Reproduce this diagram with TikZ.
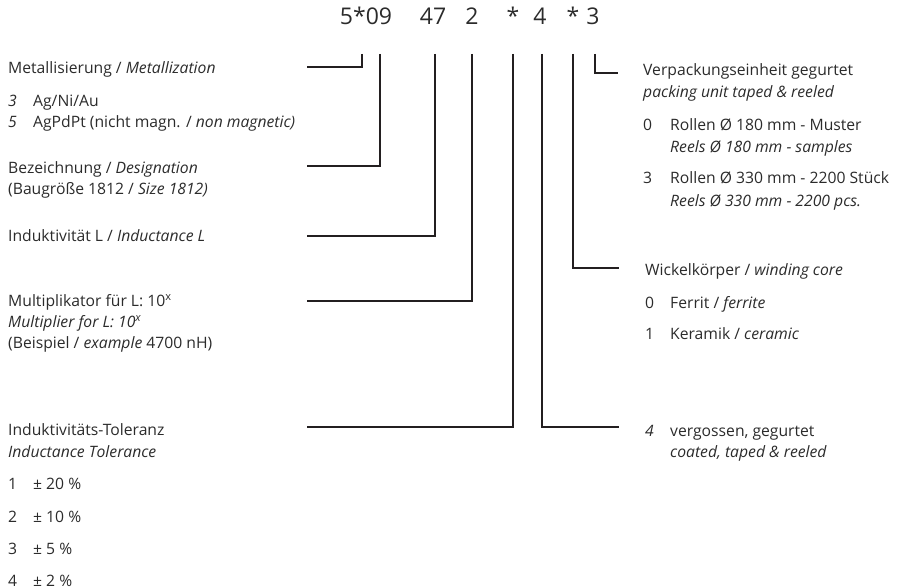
\documentclass[tikz,border=0pt]{standalone}
\usepackage{fontspec}
\setmainfont{Open Sans}
\definecolor{ink}{HTML}{2B2B2B}
\definecolor{rulec}{HTML}{231F20}
\tikzset{
  lbl/.style={anchor=base west, inner sep=0pt, font=\fontsize{15.7}{20}\selectfont, text=ink},
  codech/.style={anchor=base, inner sep=0pt, font=\fontsize{23}{27}\selectfont, text=ink},
  conn/.style={draw=rulec, line width=2.5pt}
}
\begin{document}
\begin{tikzpicture}[x=1pt,y=-1pt]
\useasboundingbox (0,0) rectangle (924,588);
% code
\node[codech] (k1) at (366,25) {5*09};
\node[codech] (k2) at (433,25) {47};
\node[codech] (k3) at (472,25) {2};
\node[codech] (k4) at (513,25) {*};
\node[codech] (k5) at (540,25) {4};
\node[codech] (k6) at (573,25) {*};
\node[codech] (k7) at (593,25) {3};
% left labels
\node[lbl] (m1) at (8,74) {Metallisierung / \textit{Metallization}};
\node[lbl] (m2n) at (8,107) {\textit{3}};
\node[lbl] (m2) at (33,107) {Ag/Ni/Au};
\node[lbl] (m3n) at (8,128) {\textit{5}};
\node[lbl] (m3) at (33,128) {AgPdPt (nicht magn. / \textit{non magnetic)}};
\node[lbl] (b1) at (8,174) {Bezeichnung / \textit{Designation}};
\node[lbl] (b2) at (8,195) {(Baugröße 1812 / \textit{Size 1812)}};
\node[lbl] (i1) at (8,242) {Induktivität L / \textit{Inductance L}};
\node[lbl] (p1) at (8,306) {Multiplikator für L: 10\textsuperscript{x}};
\node[lbl] (p2) at (8,327) {\textit{Multiplier for L: 10\textsuperscript{x}}};
\node[lbl] (p3) at (8,348) {(Beispiel / \textit{example} 4700 nH)};
\node[lbl] (t1) at (8,435) {Induktivitäts-Toleranz};
\node[lbl] (t2) at (8,457) {\textit{Inductance Tolerance}};
\node[lbl] (t3n) at (8,489) {1};
\node[lbl] (t3) at (33,489) {± 20 \%};
\node[lbl] (t4n) at (8,522) {2};
\node[lbl] (t4) at (33,522) {± 10 \%};
\node[lbl] (t5n) at (8,554) {3};
\node[lbl] (t5) at (33,554) {± 5 \%};
\node[lbl] (t6n) at (8,586) {4};
\node[lbl] (t6) at (33,586) {± 2 \%};
% right labels
\node[lbl] (v1) at (643,76) {Verpackungseinheit gegurtet};
\node[lbl] (v2) at (643,98) {\textit{packing unit taped \& reeled}};
\node[lbl] (v3n) at (643,131) {0};
\node[lbl] (v3) at (670,131) {Rollen Ø 180 mm - Muster};
\node[lbl] (v4) at (670,153) {\textit{Reels Ø 180 mm - samples}};
\node[lbl] (v5n) at (643,184) {3};
\node[lbl] (v5) at (670,184) {Rollen Ø 330 mm - 2200 Stück};
\node[lbl] (v6) at (670,207) {\textit{Reels Ø 330 mm - 2200 pcs.}};
\node[lbl] (w1) at (645,276) {Wickelkörper / \textit{winding core}};
\node[lbl] (w2n) at (645,308) {0};
\node[lbl] (w2) at (670,308) {Ferrit / \textit{ferrite}};
\node[lbl] (w3n) at (645,339) {1};
\node[lbl] (w3) at (670,339) {Keramik / \textit{ceramic}};
\node[lbl] (g1n) at (645,436) {\textit{4}};
\node[lbl] (g1) at (670,436) {vergossen, gegurtet};
\node[lbl] (g2) at (670,457) {\textit{coated, taped \& reeled}};
% connector coordinates
\coordinate (s1) at (362,54); \coordinate (e1) at (307,67);
\coordinate (s2) at (380,54); \coordinate (e2) at (307,166);
\coordinate (s3) at (435,54); \coordinate (e3) at (307,236);
\coordinate (s4) at (472,54); \coordinate (e4) at (307,301);
\coordinate (s5) at (513,54); \coordinate (e5) at (307,427);
\coordinate (s6) at (542,54); \coordinate (e6) at (619,427);
\coordinate (s7) at (573,54); \coordinate (e7) at (619,268);
\coordinate (s8) at (595,54); \coordinate (e8) at (618,73);
\draw[conn] (s1) |- (e1);
\draw[conn] (s2) |- (e2);
\draw[conn] (s3) |- (e3);
\draw[conn] (s4) |- (e4);
\draw[conn] (s5) |- (e5);
\draw[conn] (s6) |- (e6);
\draw[conn] (s7) |- (e7);
\draw[conn] (s8) |- (e8);
\end{tikzpicture}
\end{document}
